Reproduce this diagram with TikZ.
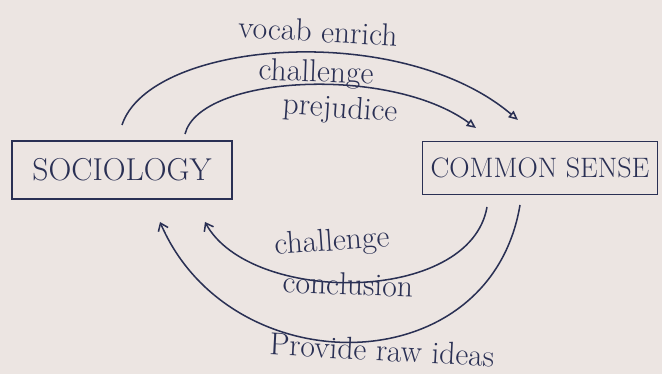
\documentclass[tikz,border=0pt]{standalone}
\usepackage{xcolor}
\usepackage{tikz}
\usetikzlibrary{arrows.meta,positioning}

\definecolor{paper}{RGB}{236,229,226}
\definecolor{ink}{RGB}{42,48,84}

\tikzset{
  term/.style={draw=ink, line width=1.4pt, text=ink, minimum height=1.75cm,
    font=\fontsize{27}{30}\selectfont},
  flow/.style={draw=ink, line width=1.3pt},
  note/.style={text=ink, font=\fontsize{27}{30}\selectfont}
}

\begin{document}
\begin{tikzpicture}[x=0.03cm, y=-0.03cm]
\fill[paper] (0, 0) rectangle (662, 374);
\useasboundingbox (0, 0) rectangle (662, 374);

\node[term, minimum width=6.6cm] (soc) at (122, 170) {SOCIOLOGY};
\node[term, minimum width=7.05cm, minimum height=1.6cm, font=\fontsize{24}{28}\selectfont] (cs) at (540, 168) {COMMON SENSE};

% end points of the curves
\coordinate (vocabA) at (122, 125);
\coordinate (vocabB) at (518, 120);
\coordinate (prejA) at (185, 134);
\coordinate (prejB) at (476, 128);
\coordinate (conclA) at (487, 207);
\coordinate (conclB) at (205, 222);
\coordinate (rawA) at (520, 205);
\coordinate (rawB) at (160, 222);

\draw[flow, -{Triangle[open, length=8pt, width=7pt]}] (vocabA) .. controls (150, 40) and (400, 20) .. (vocabB);
\draw[flow, -{Triangle[open, length=8pt, width=7pt]}] (prejA) .. controls (200, 75) and (390, 65) .. (prejB);
\draw[flow, -{Straight Barb[length=6pt, width=9pt]}] (conclA) .. controls (470, 305) and (250, 305) .. (conclB);
\draw[flow, -{Straight Barb[length=6pt, width=9pt]}] (rawA) .. controls (490, 385) and (230, 385) .. (rawB);

\node[note, rotate=-3] (vocab) at (318, 31) {vocab enrich};
\node[note, rotate=-2] (chal1) at (316, 74) {challenge};
\node[note, rotate=-4] (prej) at (340, 110) {prejudice};
\node[note, rotate=4] (chal2) at (332, 243) {challenge};
\node[note, rotate=-2] (concl) at (348, 284) {conclusion};
\node[note, rotate=-3] (raw) at (382, 350) {Provide raw ideas};
\end{tikzpicture}
\end{document}
